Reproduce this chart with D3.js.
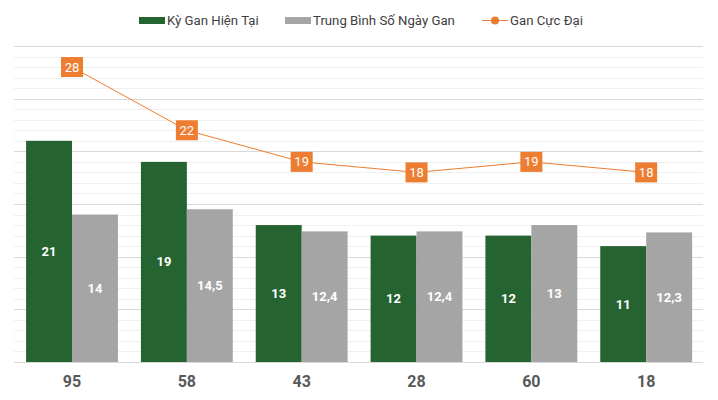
<!DOCTYPE html>
<html>
<head>
<meta charset="utf-8">
<script src="https://cdn.jsdelivr.net/npm/d3@7"></script>
<style>
  html, body { margin: 0; padding: 0; background: #fff; }
  svg { display: block; font-family: Roboto, "Noto Sans", sans-serif; }
</style>
</head>
<body>
<svg id="chart" width="718" height="400"></svg>
<script>
const categories = ["95", "58", "43", "28", "60", "18"];
const kyGan = [21, 19, 13, 12, 12, 11];
const trungBinh = [14, 14.5, 12.4, 12.4, 13, 12.3];
const ganCucDai = [28, 22, 19, 18, 19, 18];
const seriesNames = ["Kỳ Gan Hiện Tại", "Trung Bình Số Ngày Gan", "Gan Cực Đại"];
const colors = ["#256331", "#a5a5a5", "#ed7d31"];

const svg = d3.select("#chart");
const W = 718, H = 400;
const margin = { left: 14, right: 15, top: 46, bottom: 38 };
const x0 = margin.left, x1 = W - margin.right;
const yTop = margin.top, yBot = H - margin.bottom;

const x = d3.scaleBand().domain(categories).range([x0 + 0.6, x1 + 0.6]).paddingInner(0.2).paddingOuter(0.1);
const xg = d3.scaleBand().domain([0, 1]).range([0, x.bandwidth()]);
const y = d3.scaleLinear().domain([0, 30]).range([yBot, yTop]);
const fmt = v => String(v).replace(".", ",");

// gridlines
const minorTicks = d3.range(0, 31, 1).filter(v => v % 5 !== 0);
const majorTicks = d3.range(0, 31, 5);
svg.append("g").selectAll("line").data(minorTicks).join("line")
  .attr("x1", x0).attr("x2", x1)
  .attr("y1", d => Math.round(y(d)) + 0.5).attr("y2", d => Math.round(y(d)) + 0.5)
  .attr("stroke", "#f0f0f0").attr("stroke-width", 1);
svg.append("g").selectAll("line").data(majorTicks).join("line")
  .attr("x1", x0).attr("x2", x1)
  .attr("y1", d => Math.round(y(d)) + 0.5).attr("y2", d => Math.round(y(d)) + 0.5)
  .attr("stroke", "#d9d9d9").attr("stroke-width", 1);

// bars
const barData = categories.map((c, i) => ({ c, vals: [kyGan[i], trungBinh[i]] }));
const groups = svg.append("g").selectAll("g").data(barData).join("g")
  .attr("transform", d => `translate(${x(d.c)},0)`);
groups.selectAll("rect").data(d => d.vals.map((v, k) => ({ v, k }))).join("rect")
  .attr("x", d => xg(d.k)).attr("width", xg.bandwidth())
  .attr("y", d => y(d.v)).attr("height", d => y(0) - y(d.v))
  .attr("fill", d => colors[d.k]);
groups.selectAll("text").data(d => d.vals.map((v, k) => ({ v, k }))).join("text")
  .attr("x", d => xg(d.k) + xg.bandwidth() / 2)
  .attr("y", d => (y(d.v) + y(0)) / 2)
  .attr("text-anchor", "middle").attr("dominant-baseline", "central")
  .attr("fill", "#fff").attr("font-size", 13).attr("font-weight", "bold")
  .text(d => fmt(d.v));

// baseline
svg.append("line").attr("x1", x0).attr("x2", x1)
  .attr("y1", Math.round(y(0)) + 0.5).attr("y2", Math.round(y(0)) + 0.5)
  .attr("stroke", "#d9d9d9");

// line
const cx = c => x(c) + x.bandwidth() / 2;
const lineData = categories.map((c, i) => ({ c, v: ganCucDai[i] }));
svg.append("path").datum(lineData)
  .attr("d", d3.line().x(d => cx(d.c)).y(d => y(d.v)))
  .attr("fill", "none").attr("stroke", colors[2]).attr("stroke-width", 1);
const lbl = svg.append("g").selectAll("g").data(lineData).join("g")
  .attr("transform", d => `translate(${cx(d.c)},${y(d.v)})`);
lbl.append("rect").attr("x", -11).attr("y", -10).attr("width", 22).attr("height", 20)
  .attr("fill", colors[2]);
lbl.append("text").attr("text-anchor", "middle").attr("dominant-baseline", "central")
  .attr("fill", "#fff").attr("font-size", 13).text(d => fmt(d.v));

// x axis labels
svg.append("g").selectAll("text").data(categories).join("text")
  .attr("x", d => cx(d)).attr("y", 381)
  .attr("text-anchor", "middle").attr("dominant-baseline", "central")
  .attr("fill", "#595959").attr("font-size", 16).attr("font-weight", "bold")
  .text(d => d);

// legend
const lg = svg.append("g").attr("font-size", 13.2).attr("fill", "#404040");
const legendX = [139, 285, 482];
[0, 1].forEach(k => {
  lg.append("rect").attr("x", legendX[k]).attr("y", 17).attr("width", 26).attr("height", 7).attr("fill", colors[k]);
});
lg.append("line").attr("x1", legendX[2]).attr("x2", legendX[2] + 26).attr("y1", 20.5).attr("y2", 20.5)
  .attr("stroke", colors[2]).attr("stroke-width", 1);
lg.append("circle").attr("cx", legendX[2] + 13).attr("cy", 20.5).attr("r", 4).attr("fill", colors[2]);
seriesNames.forEach((n, k) => {
  lg.append("text").attr("x", legendX[k] + 28).attr("y", 20.5).attr("dominant-baseline", "central")
    .attr("fill", "#404040").text(n);
});
</script>
</body>
</html>
